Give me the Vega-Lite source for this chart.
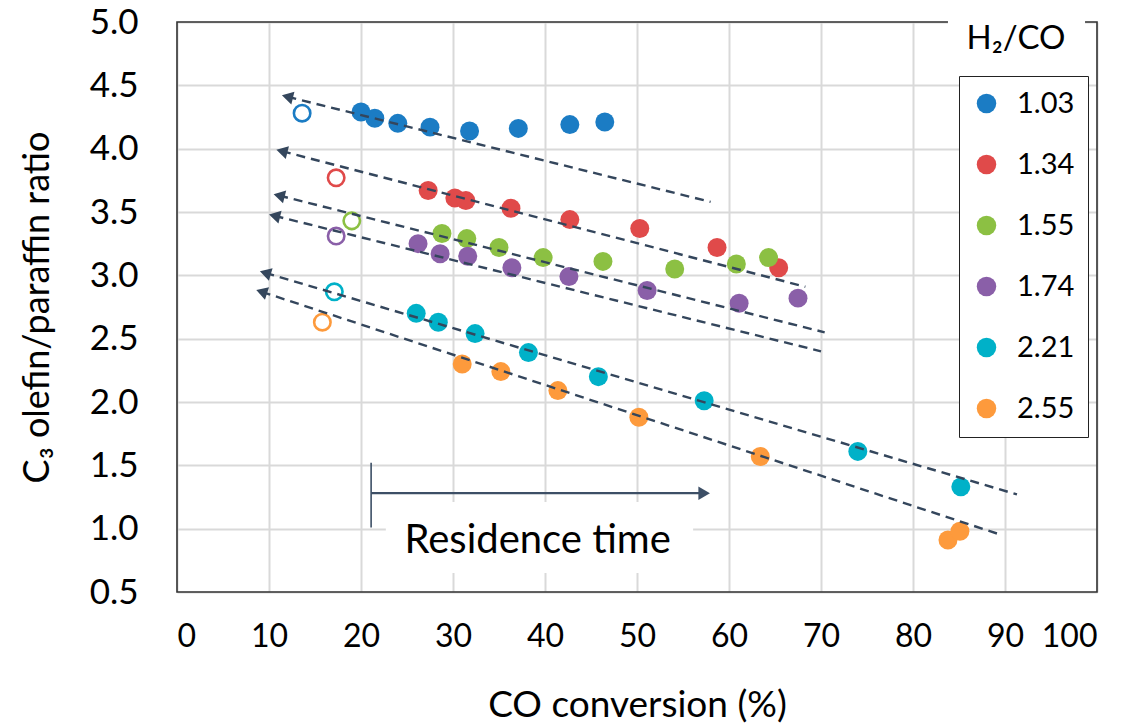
{
  "$schema": "https://vega.github.io/schema/vega-lite/v6.json",
  "width": 920,
  "height": 570,
  "autosize": "none",
  "padding": {"left": 177, "top": 22, "right": 27, "bottom": 133},
  "background": "white",
  "config": {
    "font": "Lato",
    "view": {"stroke": null},
    "axis": {
      "grid": true,
      "gridColor": "#d9d9d9",
      "gridWidth": 2,
      "domain": false,
      "ticks": false,
      "labelColor": "#000000",
      "titleColor": "#000000",
      "labelFont": "Lato",
      "titleFont": "Lato",
      "titleFontWeight": "normal"
    }
  },
  "datasets": {
    "pts": [
      {"h2co": "1.03", "kind": "open", "conv": 13.6, "ratio": 4.28},
      {"h2co": "1.03", "kind": "filled", "conv": 20.0, "ratio": 4.29},
      {"h2co": "1.03", "kind": "filled", "conv": 21.5, "ratio": 4.24},
      {"h2co": "1.03", "kind": "filled", "conv": 24.0, "ratio": 4.20},
      {"h2co": "1.03", "kind": "filled", "conv": 27.5, "ratio": 4.17},
      {"h2co": "1.03", "kind": "filled", "conv": 31.8, "ratio": 4.14},
      {"h2co": "1.03", "kind": "filled", "conv": 37.1, "ratio": 4.16},
      {"h2co": "1.03", "kind": "filled", "conv": 42.7, "ratio": 4.19},
      {"h2co": "1.03", "kind": "filled", "conv": 46.5, "ratio": 4.21},
      {"h2co": "1.34", "kind": "open", "conv": 17.3, "ratio": 3.77},
      {"h2co": "1.34", "kind": "filled", "conv": 27.3, "ratio": 3.67},
      {"h2co": "1.34", "kind": "filled", "conv": 30.2, "ratio": 3.61},
      {"h2co": "1.34", "kind": "filled", "conv": 31.4, "ratio": 3.59},
      {"h2co": "1.34", "kind": "filled", "conv": 36.3, "ratio": 3.53},
      {"h2co": "1.34", "kind": "filled", "conv": 42.7, "ratio": 3.44},
      {"h2co": "1.34", "kind": "filled", "conv": 50.3, "ratio": 3.37},
      {"h2co": "1.34", "kind": "filled", "conv": 58.7, "ratio": 3.22},
      {"h2co": "1.34", "kind": "filled", "conv": 65.4, "ratio": 3.06},
      {"h2co": "1.55", "kind": "open", "conv": 19.0, "ratio": 3.43},
      {"h2co": "1.55", "kind": "filled", "conv": 28.8, "ratio": 3.33},
      {"h2co": "1.55", "kind": "filled", "conv": 31.5, "ratio": 3.29},
      {"h2co": "1.55", "kind": "filled", "conv": 35.0, "ratio": 3.22},
      {"h2co": "1.55", "kind": "filled", "conv": 39.8, "ratio": 3.14},
      {"h2co": "1.55", "kind": "filled", "conv": 46.3, "ratio": 3.11},
      {"h2co": "1.55", "kind": "filled", "conv": 54.1, "ratio": 3.05},
      {"h2co": "1.55", "kind": "filled", "conv": 60.8, "ratio": 3.09},
      {"h2co": "1.55", "kind": "filled", "conv": 64.3, "ratio": 3.14},
      {"h2co": "1.74", "kind": "open", "conv": 17.3, "ratio": 3.31},
      {"h2co": "1.74", "kind": "filled", "conv": 26.2, "ratio": 3.25},
      {"h2co": "1.74", "kind": "filled", "conv": 28.6, "ratio": 3.17},
      {"h2co": "1.74", "kind": "filled", "conv": 31.6, "ratio": 3.15},
      {"h2co": "1.74", "kind": "filled", "conv": 36.4, "ratio": 3.06},
      {"h2co": "1.74", "kind": "filled", "conv": 42.6, "ratio": 2.99},
      {"h2co": "1.74", "kind": "filled", "conv": 51.1, "ratio": 2.88},
      {"h2co": "1.74", "kind": "filled", "conv": 61.1, "ratio": 2.78},
      {"h2co": "1.74", "kind": "filled", "conv": 67.5, "ratio": 2.82},
      {"h2co": "2.21", "kind": "open", "conv": 17.1, "ratio": 2.87},
      {"h2co": "2.21", "kind": "filled", "conv": 26.0, "ratio": 2.70},
      {"h2co": "2.21", "kind": "filled", "conv": 28.4, "ratio": 2.63},
      {"h2co": "2.21", "kind": "filled", "conv": 32.4, "ratio": 2.54},
      {"h2co": "2.21", "kind": "filled", "conv": 38.2, "ratio": 2.39},
      {"h2co": "2.21", "kind": "filled", "conv": 45.8, "ratio": 2.20},
      {"h2co": "2.21", "kind": "filled", "conv": 57.3, "ratio": 2.01},
      {"h2co": "2.21", "kind": "filled", "conv": 74.0, "ratio": 1.61},
      {"h2co": "2.21", "kind": "filled", "conv": 85.2, "ratio": 1.33},
      {"h2co": "2.55", "kind": "open", "conv": 15.8, "ratio": 2.63},
      {"h2co": "2.55", "kind": "filled", "conv": 31.0, "ratio": 2.30},
      {"h2co": "2.55", "kind": "filled", "conv": 35.2, "ratio": 2.24},
      {"h2co": "2.55", "kind": "filled", "conv": 41.4, "ratio": 2.09},
      {"h2co": "2.55", "kind": "filled", "conv": 50.2, "ratio": 1.88},
      {"h2co": "2.55", "kind": "filled", "conv": 63.4, "ratio": 1.57},
      {"h2co": "2.55", "kind": "filled", "conv": 83.8, "ratio": 0.91},
      {"h2co": "2.55", "kind": "filled", "conv": 85.1, "ratio": 0.98}
    ],
    "trend": [
      {"line": 1, "ord": 0, "conv": 12.0, "ratio": 4.41},
      {"line": 1, "ord": 1, "conv": 58.0, "ratio": 3.58},
      {"line": 2, "ord": 0, "conv": 11.4, "ratio": 3.98},
      {"line": 2, "ord": 1, "conv": 68.3, "ratio": 2.91},
      {"line": 3, "ord": 0, "conv": 11.1, "ratio": 3.63},
      {"line": 3, "ord": 1, "conv": 70.4, "ratio": 2.55},
      {"line": 4, "ord": 0, "conv": 10.6, "ratio": 3.47},
      {"line": 4, "ord": 1, "conv": 70.0, "ratio": 2.40},
      {"line": 5, "ord": 0, "conv": 9.6, "ratio": 3.02},
      {"line": 5, "ord": 1, "conv": 91.3, "ratio": 1.27},
      {"line": 6, "ord": 0, "conv": 9.2, "ratio": 2.87},
      {"line": 6, "ord": 1, "conv": 89.2, "ratio": 0.96}
    ],
    "frame": [
      {"conv": 0, "conv2": 100, "ratio": 0.5, "ratio2": 5.0}
    ],
    "boxes": [
      {"conv": 22.7, "conv2": 56.1, "ratio": 0.65, "ratio2": 1.21},
      {"conv": 83.8, "conv2": 98.7, "ratio": 4.57, "ratio2": 5.03}
    ]
  },
  "encoding": {
    "x": {
      "field": "conv",
      "type": "quantitative",
      "scale": {"domain": [0, 100], "nice": false, "zero": false},
      "axis": {
        "values": [0, 10, 20, 30, 40, 50, 60, 70, 80, 90, 100],
        "labelFontSize": 32,
        "labelPadding": 29,
        "title": "CO conversion (%)",
        "titleFontSize": 37,
        "titleY": 113,
        "titleBaseline": "middle"
      }
    },
    "y": {
      "field": "ratio",
      "type": "quantitative",
      "scale": {"domain": [0.5, 5.0], "nice": false, "zero": false},
      "axis": {
        "values": [0.5, 1.0, 1.5, 2.0, 2.5, 3.0, 3.5, 4.0, 4.5, 5.0],
        "format": ".1f",
        "labelFontSize": 35,
        "labelPadding": 39,
        "title": "C₃ olefin/paraffin ratio",
        "titleFontSize": 36,
        "titleX": -140,
        "titleY": 285,
        "titleAngle": -90,
        "titleAlign": "center",
        "titleBaseline": "middle"
      }
    }
  },
  "layer": [
    {
      "data": {"name": "frame"},
      "mark": {"type": "rect", "fill": null, "stroke": "#333333", "strokeWidth": 1.6},
      "encoding": {"x2": {"field": "conv2"}, "y2": {"field": "ratio2"}}
    },
    {
      "data": {"name": "boxes"},
      "mark": {"type": "rect", "fill": "white", "stroke": null},
      "encoding": {"x2": {"field": "conv2"}, "y2": {"field": "ratio2"}}
    },
    {
      "data": {"name": "pts"},
      "transform": [{"filter": "datum.kind === 'filled'"}],
      "mark": {"type": "circle", "size": 360, "opacity": 1},
      "encoding": {
        "color": {
          "field": "h2co",
          "type": "nominal",
          "scale": {
            "domain": ["1.03", "1.34", "1.55", "1.74", "2.21", "2.55"],
            "range": ["#1b7cc4", "#e04a4a", "#8cc043", "#8a5fa8", "#00b1c8", "#fd9a3c"]
          },
          "legend": {
            "orient": "none",
            "legendX": 782,
            "legendY": 54,
            "title": null,
            "padding": 13,
            "rowPadding": 31,
            "labelOffset": 16,
            "labelFontSize": 29,
            "labelFont": "Lato",
            "labelColor": "#000000",
            "strokeColor": "#222222",
            "fillColor": "white",
            "symbolType": "circle",
            "symbolSize": 380,
            "symbolStrokeWidth": 0,
            "labelLimit": 300
          }
        }
      }
    },
    {
      "data": {"name": "pts"},
      "transform": [{"filter": "datum.kind === 'open'"}],
      "mark": {"type": "point", "shape": "circle", "filled": false, "size": 270, "strokeWidth": 2.6, "opacity": 1},
      "encoding": {
        "stroke": {
          "field": "h2co",
          "type": "nominal",
          "scale": {
            "domain": ["1.03", "1.34", "1.55", "1.74", "2.21", "2.55"],
            "range": ["#1b7cc4", "#e04a4a", "#8cc043", "#8a5fa8", "#00b1c8", "#fd9a3c"]
          },
          "legend": null
        }
      }
    },
    {
      "data": {"name": "trend"},
      "mark": {"type": "line", "color": "#34465c", "strokeWidth": 2.4, "strokeDash": [9, 6]},
      "encoding": {
        "detail": {"field": "line", "type": "nominal"},
        "order": {"field": "ord", "type": "quantitative"}
      }
    },
    {
      "data": {"name": "trend"},
      "transform": [{"filter": "datum.ord === 0 && datum.line <= 4"}],
      "mark": {"type": "point", "shape": "triangle-left", "filled": true, "color": "#34465c", "size": 170, "angle": 14, "opacity": 1},
      "encoding": {}
    },
    {
      "data": {"name": "trend"},
      "transform": [{"filter": "datum.ord === 0 && datum.line === 5"}],
      "mark": {"type": "point", "shape": "triangle-left", "filled": true, "color": "#34465c", "size": 170, "angle": 16.4, "opacity": 1},
      "encoding": {}
    },
    {
      "data": {"name": "trend"},
      "transform": [{"filter": "datum.ord === 0 && datum.line === 6"}],
      "mark": {"type": "point", "shape": "triangle-left", "filled": true, "color": "#34465c", "size": 170, "angle": 18.2, "opacity": 1},
      "encoding": {}
    },
    {
      "data": {"values": [{"conv": 21.1, "ratio": 1.01, "ratio2": 1.52}]},
      "mark": {"type": "rule", "color": "#3d4f66", "strokeWidth": 1.6},
      "encoding": {"y2": {"field": "ratio2"}}
    },
    {
      "data": {"values": [{"conv": 21.1, "conv2": 57.3, "ratio": 1.28}]},
      "mark": {"type": "rule", "color": "#3d4f66", "strokeWidth": 2.2},
      "encoding": {"x2": {"field": "conv2"}}
    },
    {
      "data": {"values": [{"conv": 57.3, "ratio": 1.28}]},
      "mark": {"type": "point", "shape": "triangle-right", "filled": true, "color": "#3d4f66", "size": 180, "opacity": 1},
      "encoding": {}
    },
    {
      "data": {"values": [{"conv": 39.2, "ratio": 0.81, "label": "Residence time"}]},
      "mark": {"type": "text", "font": "Lato", "fontSize": 40, "align": "center", "baseline": "alphabetic", "color": "#000000"},
      "encoding": {"text": {"field": "label"}}
    },
    {
      "data": {"values": [{"conv": 91.2, "ratio": 4.787, "label": "H₂/CO"}]},
      "mark": {"type": "text", "font": "Lato", "fontSize": 33, "align": "center", "baseline": "alphabetic", "color": "#000000"},
      "encoding": {"text": {"field": "label"}}
    }
  ]
}
